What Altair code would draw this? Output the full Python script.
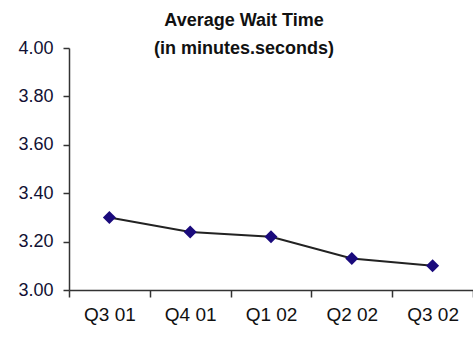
import altair as alt
import pandas as pd

# Quarterly average wait time (minutes.seconds)
quarters = ["Q3 01", "Q4 01", "Q1 02", "Q2 02", "Q3 02"]
wait_times = [3.30, 3.24, 3.22, 3.13, 3.10]
y_ticks = [3.00, 3.20, 3.40, 3.60, 3.80, 4.00]

df = pd.DataFrame({"quarter": quarters, "wait": wait_times})

FONT = "Liberation Sans"

x_enc = alt.X(
    "quarter:N",
    sort=quarters,
    title=None,
    scale=alt.Scale(paddingInner=0, paddingOuter=0),
    axis=alt.Axis(
        labelAngle=0,
        tickBand="extent",
        tickSize=7,
        labelPadding=8,
        labelFontSize=19,
        labelFont=FONT,
        labelColor="#111111",
        domainColor="#333333",
        tickColor="#333333",
        domainWidth=1.5,
        tickWidth=1.5,
    ),
)
y_enc = alt.Y(
    "wait:Q",
    title=None,
    scale=alt.Scale(domain=[3.0, 4.0], nice=False, zero=False),
    axis=alt.Axis(
        values=y_ticks,
        format=".2f",
        grid=False,
        tickSize=6,
        labelPadding=10,
        labelFontSize=18,
        labelFont=FONT,
        labelColor="#111133",
        domainColor="#333333",
        tickColor="#333333",
        domainWidth=1.5,
        tickWidth=1.5,
    ),
)

base = alt.Chart(df).encode(x=x_enc, y=y_enc)

line = base.mark_line(color="#222222", strokeWidth=2)
points = base.mark_point(shape="diamond", filled=True, size=170, color="#1a0a7c", opacity=1)

chart = (
    alt.layer(line, points)
    .properties(
        width=404,
        height=242,
        title=alt.TitleParams(
            text=["Average Wait Time", "(in minutes.seconds)"],
            font=FONT,
            fontSize=18,
            fontWeight="bold",
            color="#111111",
            lineHeight=28,
            anchor="middle",
            dx=-27,
            offset=-19,
        ),
        autosize=alt.AutoSizeParams(type="none"),
        padding={"left": 69, "top": 48, "right": 0, "bottom": 53},
    )
    .configure_view(stroke=None)
)

chart.save("out.html", embed_options={"renderer": "svg", "actions": False})
